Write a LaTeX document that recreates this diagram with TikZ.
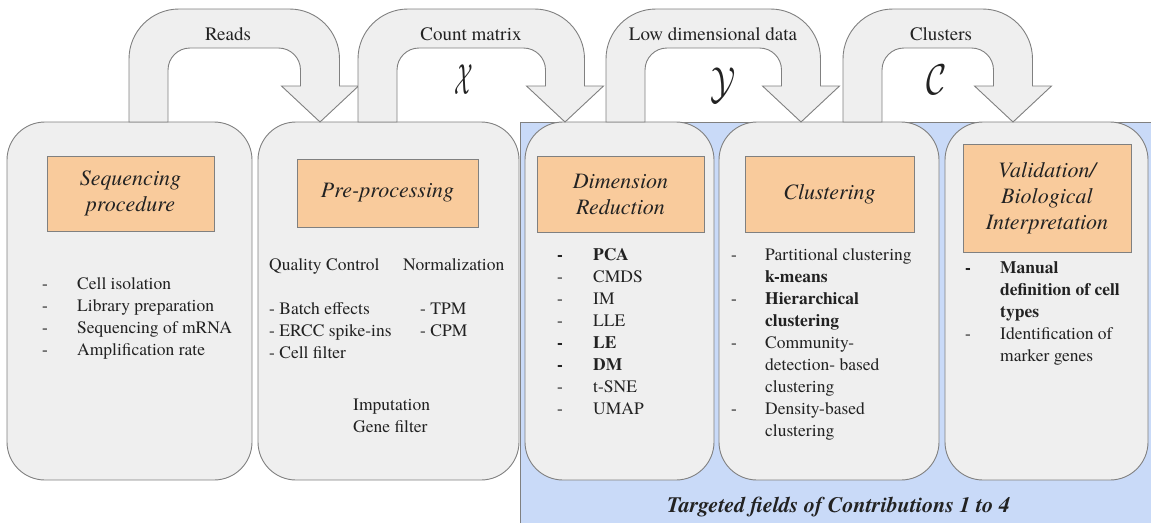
\documentclass[tikz,border=0pt]{standalone}
\usepackage{fontspec}
\setmainfont{texgyretermes}[Extension=.otf, UprightFont=*-regular, BoldFont=*-bold,
  ItalicFont=*-italic, BoldItalicFont=*-bolditalic]
\usepackage{amssymb}
\usepackage{graphicx}

\definecolor{boxgray}{HTML}{EFEFEF}
\definecolor{linegray}{HTML}{808080}
\definecolor{peach}{HTML}{F9CB9C}
\definecolor{paleblue}{HTML}{C9DAF8}
\definecolor{ink}{HTML}{222222}

% U-shaped block arrow: #1 = left edge of rising shaft, #2 = x of the tip
\newcommand{\fatarrow}[2]{%
  \draw[fat] (#1,122) -- (#1,59) arc[start angle=180, end angle=270, radius=50]
    -- ({#2-30.5},9) arc[start angle=270, end angle=360, radius=50]
    -- ({#2+19.5},86) -- ({#2+38.5},86) -- (#2,122) -- ({#2-38.5},86) -- ({#2-19.5},86)
    -- ({#2-19.5},70) arc[start angle=0, end angle=-90, radius=22]
    -- ({#1+61},48) arc[start angle=-90, end angle=-180, radius=22]
    -- ({#1+39},122) -- cycle;}

\begin{document}
\begin{tikzpicture}[x=1pt, y=-1pt,
    stage/.style={draw=linegray, fill=boxgray, line width=0.9pt, rounded corners=38pt,
        minimum height=358pt, inner sep=0pt},
    head/.style={draw=linegray, fill=peach, line width=0.9pt, inner sep=0pt, align=center,
        text=ink, font=\fontsize{22}{26}\selectfont\itshape},
    fat/.style={draw=linegray, fill=boxgray, line width=0.9pt},
    lbl/.style={text=ink, font=\fontsize{19}{22}\selectfont},
    lst/.style={anchor=north west, inner sep=0pt, text=ink, font=\fontsize{17.5}{22}\selectfont},
    sym/.style={text=ink, font=\fontsize{24.88}{28}\selectfont}]
\useasboundingbox (0,0) rectangle (1151,523);

% targeted region
\fill[paleblue] (520.5,122) rectangle (1151,523);
\draw[linegray, line width=0.9pt] (520.5,523) -- (520.5,122) -- (1151,122);

% stages
\node[stage, minimum width=245pt] (seq) at (129.5,301) {};
\node[stage, minimum width=261pt] (pre) at (388.5,301) {};
\node[stage, minimum width=189pt] (dim) at (619.5,301) {};
\node[stage, minimum width=220pt] (clu) at (829,301) {};
\node[stage, minimum width=203pt] (val) at (1046.5,301) {};

\node[head, minimum width=167pt, minimum height=75pt] (seqh) at (130.5,193.5) {Sequencing\\procedure};
\node[head, minimum width=181pt, minimum height=68pt] (preh) at (387.5,193) {Pre-processing};
\node[head, minimum width=167pt, minimum height=76pt] (dimh) at (620.5,194) {Dimension\\Reduction};
\node[head, minimum width=169pt, minimum height=76pt] (cluh) at (829.5,194) {Clustering};
\node[head, minimum width=168pt, minimum height=108pt] (valh) at (1047,198) {Validation/\\Biological\\Interpretation};

% flow between stages
\fatarrow{129}{320}
\fatarrow{358}{565}
\fatarrow{606}{801}
\fatarrow{843}{1013}
\node[lbl, anchor=base] (reads) at (228,40) {Reads};
\node[lbl, anchor=base] (count) at (471,40) {Count matrix};
\node[lbl, anchor=base] (lowdim) at (713,40) {Low dimensional data};
\node[lbl, anchor=base] (clusters) at (941,40) {Clusters};
\node[sym] (xsym) at (464,80) {\scalebox{0.87}[1.75]{$\mathcal{X}$}};
\node[sym] (ysym) at (723,85) {\scalebox{1.35}[1.8]{$\mathcal{Y}$}};
\node[sym] (csym) at (937,80) {\scalebox{1.4}[1.73]{$\mathcal{C}$}};

% stage contents
\node[lst] (seqlist) at (42,274) {\begin{tabular}{@{}p{35pt}@{}l@{}}
  -&Cell isolation\\ -&Library preparation\\ -&Sequencing of mRNA\\ -&Amplification rate
  \end{tabular}};
\node[lst] (qc) at (269,255) {\begin{tabular}{@{}l@{}}
  Quality Control\\ \\ - Batch effects\\ - ERCC spike-ins\\ - Cell filter
  \end{tabular}};
\node[lst] (norm) at (403,255) {\begin{tabular}{@{}l@{}}Normalization\end{tabular}};
\node[lst] (normlist) at (420,299) {\begin{tabular}{@{}l@{}}- TPM\\ - CPM\end{tabular}};
\node[lst] (imput) at (353,395) {\begin{tabular}{@{}l@{}}Imputation\\ Gene filter\end{tabular}};
\node[lst] (dimlist) at (557,245) {\begin{tabular}{@{}p{36pt}@{}l@{}}
  \textbf{-}&\textbf{PCA}\\ -&CMDS\\ -&IM\\ -&LLE\\ \textbf{-}&\textbf{LE}\\
  \textbf{-}&\textbf{DM}\\ -&t-SNE\\ -&UMAP
  \end{tabular}};
\node[lst] (clulist) at (731,245) {\begin{tabular}{@{}p{34pt}@{}l@{}}
  -&Partitional clustering\\ &\textbf{k-means}\\ -&\textbf{Hierarchical}\\ &\textbf{clustering}\\
  -&Community-\\ &detection- based\\ &clustering\\ -&Density-based\\ &clustering
  \end{tabular}};
\node[lst] (vallist) at (965,258) {\begin{tabular}{@{}p{35pt}@{}l@{}}
  \textbf{-}&\textbf{Manual}\\ &\textbf{definition of cell}\\ &\textbf{types}\\
  -&Identification of\\ &marker genes
  \end{tabular}};

\node[text=ink, anchor=base, font=\fontsize{22}{26}\selectfont\bfseries\itshape] (target) at (838.5,512)
  {Targeted fields of Contributions 1 to 4};
\end{tikzpicture}
\end{document}
